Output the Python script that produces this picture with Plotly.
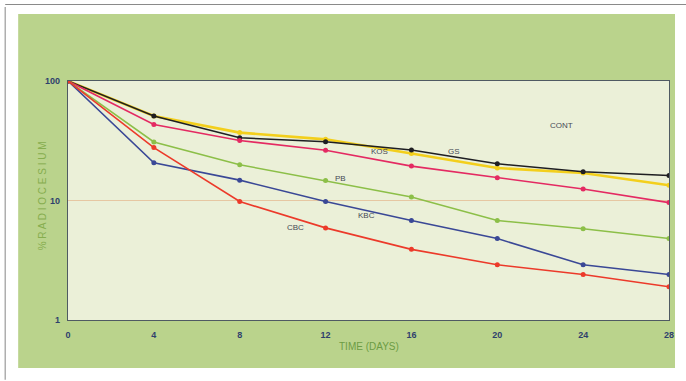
import plotly.graph_objects as go

days = [0, 4, 8, 12, 16, 20, 24, 28]
cont = [100, 51, 33.5, 31, 26.5, 20.3, 17.4, 16.2]
gs = [100, 51, 37, 32.5, 24.7, 18.7, 17, 13.4]
kos = [100, 43.3, 31.8, 26.3, 19.4, 15.5, 12.5, 9.6]
pb = [100, 30.9, 19.9, 14.7, 10.7, 6.8, 5.8, 4.8]
kbc = [100, 20.7, 14.8, 9.8, 6.8, 4.8, 2.9, 2.4]
cbc = [100, 27.7, 9.8, 5.9, 3.9, 2.9, 2.4, 1.9]

x_ticks = [0, 4, 8, 12, 16, 20, 24, 28]
y_ticks = [1, 10, 100]
y_ticktext = ["1", "10", "100"]

labels = ["CONT", "GS", "KOS", "PB", "KBC", "CBC"]
label_x = [23.0, 18.0, 14.5, 12.7, 13.9, 10.6]
label_logy = [1.63, 1.41, 1.41, 1.185, 0.874, 0.773]

series = [
    ("GS", gs, "#f3cf1c", 2.6),
    ("CONT", cont, "#1e1e22", 1.6),
    ("KOS", kos, "#e42a62", 1.6),
    ("PB", pb, "#8cbf48", 1.5),
    ("KBC", kbc, "#3a4896", 1.6),
    ("CBC", cbc, "#ec3a2a", 1.6),
]

fig = go.Figure()
for name, vals, color, w in series:
    fig.add_trace(go.Scatter(
        x=days, y=vals, mode="lines+markers", name=name,
        line=dict(color=color, width=w),
        marker=dict(color=color, size=5, symbol="circle"),
        showlegend=False,
    ))

for t, lx, ly in zip(labels, label_x, label_logy):
    fig.add_annotation(x=lx, y=ly, xref="x", yref="y", text=t, showarrow=False,
                       font=dict(family="Liberation Sans, Arial", size=8, color="#454a55"))

# axis titles
fig.add_annotation(x=-0.0547, y=0.52, xref="paper", yref="paper",
                   text="% R A D I O C E S I U M", textangle=-90, showarrow=False,
                   font=dict(family="Liberation Sans, Arial", size=10, color="#86ad4e"))
fig.add_annotation(x=0.5, y=-0.142, xref="paper", yref="paper",
                   text="TIME (DAYS)", showarrow=False,
                   font=dict(family="Liberation Sans, Arial", size=10, color="#6c9c44"))

shapes = [
    # textured panel background
    dict(type="rect", xref="paper", yref="paper", x0=-0.0829, x1=1.0100, y0=-0.2008, y1=1.2803,
         fillcolor="#bad38c", line=dict(width=0), layer="below"),
    # plot area lighter background
    dict(type="rect", xref="paper", yref="paper", x0=0, x1=1, y0=0, y1=1,
         fillcolor="#ebf0d8", line=dict(width=0), layer="below"),
    # scanned page frame
    dict(type="line", xref="paper", yref="paper", x0=-0.1045, x1=-0.1045, y0=-0.25, y1=1.31,
         line=dict(color="#9a9a9a", width=1.2)),
    dict(type="line", xref="paper", yref="paper", x0=-0.1045, x1=1.03, y0=1.32, y1=1.32,
         line=dict(color="#8a8a8a", width=1.2)),
]

fig.update_layout(
    width=686, height=381,
    margin=dict(l=68, r=15, t=81, b=61),
    paper_bgcolor="#ffffff",
    plot_bgcolor="rgba(0,0,0,0)",
    shapes=shapes,
    font=dict(family="Liberation Sans, Arial"),
)
fig.update_xaxes(
    range=[0, 28], tickvals=x_ticks, showgrid=False, zeroline=False,
    showline=True, linecolor="#4f5a62", linewidth=1.2, mirror=True,
    ticks="outside", ticklen=6, tickcolor="rgba(0,0,0,0)",
    tickfont=dict(size=9, color="#2f3f6c", family="Liberation Sans, Arial", weight="bold"),
)
fig.update_yaxes(
    type="log", range=[0, 2], tickvals=y_ticks, ticktext=y_ticktext,
    showgrid=True, gridcolor="#e6c7a2", gridwidth=1, zeroline=False,
    showline=True, linecolor="#4f5a62", linewidth=1.2, mirror=True,
    ticks="outside", ticklen=5, tickcolor="rgba(0,0,0,0)",
    tickfont=dict(size=9, color="#2f3f6c", family="Liberation Sans, Arial", weight="bold"),
)

fig.write_html("out.html", config={"displayModeBar": False},
               post_script="document.body.style.margin='0';document.body.style.overflow='hidden';")
